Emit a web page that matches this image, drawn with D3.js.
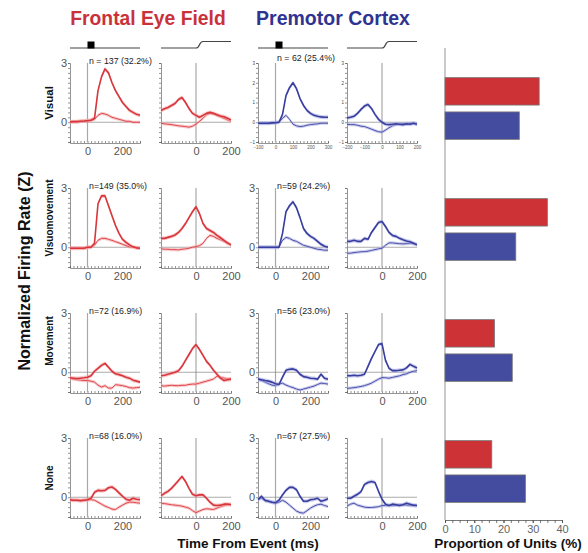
<!DOCTYPE html>
<html>
<head>
<meta charset="utf-8">
<script src="https://cdn.jsdelivr.net/npm/d3@7"></script>
<style>
  body { margin: 0; background: #fff; }
  text { font-family: "Liberation Sans", Arial, sans-serif; }
</style>
</head>
<body>
<script>
// time bins (ms)
const tStim = [-100, -80, -60, -40, -20, 0, 20, 40, 60, 80, 100, 120, 140, 160, 180, 200, 220, 240, 260, 280, 300];
const tSacc = [-200, -180, -160, -140, -120, -100, -80, -60, -40, -20, 0, 20, 40, 60, 80, 100, 120, 140, 160, 180, 200];

const rowNames = ["Visual", "Visuomovement", "Movement", "None"];
const fefN = [137, 149, 72, 68];
const pmcN = [62, 59, 56, 67];
const fefPct = [32.2, 35.0, 16.9, 16.0];
const pmcPct = [25.4, 24.2, 23.0, 27.5];
const barTicks = [0, 10, 20, 30, 40];

// FEF, stimulus aligned (pref / non-pref)
const fefVisStim = [0.02, 0.03, 0.03, 0.05, 0.06, 0.08, 0.1, 0.2, 1.6, 2.3, 2.7, 2.5, 2.0, 1.6, 1.3, 1.0, 0.8, 0.6, 0.5, 0.4, 0.35];
const fefVisStimNP = [0.02, 0.03, 0.03, 0.05, 0.06, 0.08, 0.1, 0.15, 0.35, 0.45, 0.42, 0.35, 0.25, 0.2, 0.15, 0.1, 0.05, 0.05, 0.0, 0.0, 0.0];
const fefVmStim = [-0.05, -0.05, -0.05, -0.05, -0.05, 0.0, 0.0, 0.2, 2.2, 2.6, 2.6, 2.1, 1.6, 1.1, 0.7, 0.4, 0.25, 0.12, 0.02, -0.03, -0.05];
const fefVmStimNP = [-0.05, -0.05, -0.05, -0.05, -0.05, 0.0, 0.0, 0.1, 0.35, 0.45, 0.45, 0.4, 0.35, 0.28, 0.22, 0.15, 0.08, 0.02, 0.0, -0.03, -0.05];
const fefMovStim = [-0.28, -0.3, -0.32, -0.3, -0.28, -0.25, -0.18, 0.05, 0.2, 0.35, 0.45, 0.25, 0.05, -0.08, -0.12, -0.18, -0.25, -0.3, -0.4, -0.45, -0.5];
const fefMovStimNP = [-0.3, -0.35, -0.38, -0.4, -0.42, -0.42, -0.45, -0.5, -0.65, -0.75, -0.68, -0.8, -0.8, -0.63, -0.65, -0.68, -0.72, -0.78, -0.8, -0.78, -0.76];
const fefNoneStim = [-0.13, -0.15, -0.15, -0.17, -0.15, -0.13, -0.05, 0.25, 0.35, 0.33, 0.35, 0.48, 0.52, 0.4, 0.22, 0.05, -0.1, -0.15, -0.05, -0.1, -0.13];
const fefNoneStimNP = [-0.13, -0.15, -0.15, -0.17, -0.15, -0.13, -0.12, -0.15, -0.25, -0.35, -0.45, -0.52, -0.6, -0.62, -0.5, -0.4, -0.3, -0.25, -0.25, -0.28, -0.3];

// FEF, saccade aligned
const fefVisSacc = [0.6, 0.68, 0.75, 0.85, 0.95, 1.15, 1.25, 1.0, 0.7, 0.45, 0.35, 0.25, 0.35, 0.45, 0.5, 0.45, 0.38, 0.32, 0.28, 0.2, 0.12];
const fefVisSaccNP = [-0.05, -0.08, -0.1, -0.12, -0.15, -0.18, -0.2, -0.22, -0.25, -0.2, -0.1, 0.05, 0.2, 0.38, 0.45, 0.42, 0.35, 0.28, 0.2, 0.12, 0.05];
const fefVmSacc = [0.45, 0.45, 0.5, 0.55, 0.62, 0.75, 0.95, 1.2, 1.5, 1.8, 2.05, 1.7, 1.2, 0.95, 0.85, 0.75, 0.6, 0.48, 0.35, 0.22, 0.12];
const fefVmSaccNP = [-0.08, -0.1, -0.1, -0.12, -0.12, -0.13, -0.1, -0.08, -0.05, 0.0, 0.03, 0.08, 0.2, 0.45, 0.6, 0.55, 0.45, 0.38, 0.3, 0.2, 0.12];
const fefMovSacc = [-0.18, -0.15, -0.1, -0.05, 0.0, 0.08, 0.3, 0.6, 0.9, 1.2, 1.4, 1.15, 0.85, 0.55, 0.35, 0.1, -0.1, -0.3, -0.42, -0.38, -0.35];
const fefMovSaccNP = [-0.68, -0.7, -0.68, -0.66, -0.68, -0.68, -0.66, -0.66, -0.62, -0.6, -0.6, -0.55, -0.5, -0.45, -0.4, -0.34, -0.2, -0.25, -0.3, -0.33, -0.34];
const fefNoneSacc = [0.08, 0.2, 0.3, 0.45, 0.65, 0.85, 1.05, 0.8, 0.45, 0.15, 0.08, 0.12, 0.12, -0.05, -0.25, -0.4, -0.42, -0.4, -0.35, -0.35, -0.38];
const fefNoneSaccNP = [-0.3, -0.32, -0.35, -0.38, -0.4, -0.42, -0.45, -0.5, -0.55, -0.68, -0.78, -0.7, -0.62, -0.58, -0.6, -0.62, -0.55, -0.48, -0.42, -0.38, -0.35];

// PMC, stimulus aligned
const pmcVisStim = [-0.05, -0.05, -0.05, -0.05, -0.03, -0.02, 0.0, 0.4, 1.35, 1.75, 2.0, 1.7, 1.2, 0.85, 0.6, 0.45, 0.35, 0.3, 0.27, 0.25, 0.25];
const pmcVisStimNP = [-0.05, -0.05, -0.05, -0.05, -0.03, -0.02, 0.0, 0.2, 0.35, 0.15, -0.1, -0.18, -0.22, -0.2, -0.15, -0.12, -0.1, -0.08, -0.05, -0.05, -0.05];
const pmcVmStim = [0.0, 0.0, 0.0, 0.0, 0.0, 0.0, 0.0, 0.7, 1.8, 2.1, 2.3, 2.0, 1.5, 0.95, 0.7, 0.55, 0.45, 0.3, 0.15, 0.05, 0.0];
const pmcVmStimNP = [0.0, 0.0, 0.0, 0.0, 0.0, 0.0, 0.0, 0.35, 0.5, 0.45, 0.35, 0.3, 0.2, 0.1, 0.05, 0.0, -0.05, -0.1, -0.12, -0.15, -0.15];
const pmcMovStim = [-0.35, -0.38, -0.42, -0.45, -0.5, -0.58, -0.62, -0.25, 0.1, 0.15, 0.17, 0.1, -0.1, -0.22, -0.25, -0.3, -0.32, -0.35, -0.1, -0.3, -0.35];
const pmcMovStimNP = [-0.35, -0.42, -0.5, -0.58, -0.65, -0.68, -0.6, -0.55, -0.65, -0.72, -0.78, -0.85, -0.9, -0.85, -0.8, -0.75, -0.7, -0.62, -0.55, -0.57, -0.6];
const pmcNoneStim = [-0.12, 0.05, -0.15, -0.2, -0.25, -0.28, -0.15, 0.12, 0.35, 0.5, 0.5, 0.38, 0.05, -0.2, -0.2, -0.13, -0.1, -0.05, -0.2, -0.15, -0.08];
const pmcNoneStimNP = [-0.12, -0.05, -0.18, -0.2, -0.25, -0.3, -0.25, -0.15, -0.25, -0.4, -0.55, -0.7, -0.78, -0.8, -0.68, -0.55, -0.45, -0.38, -0.35, -0.42, -0.47];

// PMC, saccade aligned
const pmcVisSacc = [0.22, 0.25, 0.3, 0.45, 0.65, 0.82, 0.9, 0.7, 0.4, 0.15, 0.0, -0.1, -0.12, -0.1, -0.08, -0.1, -0.12, -0.08, -0.1, -0.05, -0.1];
const pmcVisSaccNP = [-0.1, -0.12, -0.12, -0.15, -0.2, -0.22, -0.28, -0.35, -0.42, -0.48, -0.5, -0.4, -0.28, -0.18, -0.12, -0.1, -0.08, -0.1, -0.05, -0.05, -0.1];
const pmcVmSacc = [0.3, 0.3, 0.35, 0.3, 0.3, 0.45, 0.4, 0.75, 1.0, 1.25, 1.3, 1.05, 0.75, 0.6, 0.55, 0.45, 0.38, 0.32, 0.28, 0.2, 0.12];
const pmcVmSaccNP = [-0.3, -0.3, -0.27, -0.25, -0.23, -0.22, -0.2, -0.16, -0.12, -0.08, -0.05, 0.1, 0.22, 0.22, 0.2, 0.18, 0.17, 0.18, 0.2, 0.18, 0.15];
const pmcMovSacc = [-0.17, -0.18, -0.15, -0.18, -0.15, -0.1, 0.3, 0.7, 1.05, 1.4, 1.45, 0.6, 0.2, 0.08, 0.08, 0.1, 0.12, 0.22, 0.4, 0.3, 0.22];
const pmcMovSaccNP = [-0.82, -0.8, -0.78, -0.75, -0.72, -0.68, -0.62, -0.55, -0.45, -0.35, -0.27, -0.28, -0.3, -0.26, -0.22, -0.18, -0.12, -0.08, 0.0, 0.05, 0.08];
const pmcNoneSacc = [-0.05, -0.05, 0.05, 0.15, 0.28, 0.65, 0.75, 0.8, 0.75, 0.3, -0.1, -0.35, -0.42, -0.35, -0.38, -0.42, -0.38, -0.3, -0.35, -0.4, -0.42];
const pmcNoneSaccNP = [-0.45, -0.35, -0.3, -0.4, -0.45, -0.5, -0.52, -0.52, -0.5, -0.48, -0.42, -0.42, -0.42, -0.42, -0.4, -0.38, -0.38, -0.4, -0.42, -0.42, -0.42];

// approx. SEM half-width of the shaded bands (Z)
const semPref = 0.1;
const semNon = 0.08;

const W = 588, H = 553;
const svg = d3.select("body").append("svg").attr("width", W).attr("height", H);

const red = { line: "#d8363b", light: "#e0484d", band: "#f2a3a6" };
const blue = { line: "#383e9f", light: "#4d52ad", band: "#a9ace0" };

const colX = [70, 161, 258, 347];
const panelW = 70;
const rowTop = [63, 188, 313, 438];
const panelH = 79;
const fmt = d3.format("d");

// grid of panels: [row][col] = [pref, nonpref]
const traces = [
    [[fefVisStim, fefVisStimNP], [fefVisSacc, fefVisSaccNP], [pmcVisStim, pmcVisStimNP], [pmcVisSacc, pmcVisSaccNP]],
    [[fefVmStim, fefVmStimNP], [fefVmSacc, fefVmSaccNP], [pmcVmStim, pmcVmStimNP], [pmcVmSacc, pmcVmSaccNP]],
    [[fefMovStim, fefMovStimNP], [fefMovSacc, fefMovSaccNP], [pmcMovStim, pmcMovStimNP], [pmcMovSacc, pmcMovSaccNP]],
    [[fefNoneStim, fefNoneStimNP], [fefNoneSacc, fefNoneSaccNP], [pmcNoneStim, pmcNoneStimNP], [pmcNoneSacc, pmcNoneSaccNP]],
];

const xScales = colX.map((x0, c) =>
    d3.scaleLinear().domain(c % 2 === 0 ? [-100, 300] : [-200, 200]).range([x0, x0 + panelW])
);

rowNames.forEach((name, r) => {
    const y = d3.scaleLinear().domain([-1, 3]).range([rowTop[r] + panelH, rowTop[r]]);

    colX.forEach((x0, c) => {
        const x = xScales[c];
        const t = c % 2 === 0 ? tStim : tSacc;
        const col = c < 2 ? red : blue;
        const g = svg.append("g");
        const tiny = r === 0 && c >= 2;

        // left axis (minor ticks)
        const la = g.append("g").attr("transform", `translate(${x0},0)`)
            .call(d3.axisLeft(y).tickValues(d3.range(-1, 3.001, 0.25)).tickSize(2).tickFormat(""));
        la.selectAll("path,line").attr("stroke", "#666").attr("stroke-width", 0.7);
        if (c % 2 === 0 && !tiny) {
            const ll = g.append("g").attr("transform", `translate(${x0},0)`)
                .call(d3.axisLeft(y).tickValues([0, 3]).tickSize(0).tickPadding(3).tickFormat(fmt));
            ll.select(".domain").remove();
            ll.selectAll("text").attr("font-size", 11).attr("fill", "#555")
                .attr("font-family", "Liberation Sans, Arial, sans-serif");
        }
        if (tiny) {
            const ll = g.append("g").attr("transform", `translate(${x0},0)`)
                .call(d3.axisLeft(y).tickValues([-1, 0, 1, 2, 3]).tickSize(0).tickPadding(3).tickFormat(fmt));
            ll.select(".domain").remove();
            ll.selectAll("text").attr("font-size", 4.5).attr("fill", "#444");
        }

        // bottom axis
        const yb = y(-1) + 1;
        const ba = g.append("g").attr("transform", `translate(0,${yb})`)
            .call(d3.axisBottom(x).tickValues(d3.range(x.domain()[0], x.domain()[1] + 1, 20)).tickSize(-2).tickFormat(""));
        ba.selectAll("path,line").attr("stroke", "#666").attr("stroke-width", 0.7);
        const bl = g.append("g").attr("transform", `translate(0,${yb})`)
            .call(d3.axisBottom(x).tickValues(tiny ? d3.range(x.domain()[0], x.domain()[1] + 1, 100) : [0, 200])
                .tickSize(0).tickPadding(tiny ? 3 : 4).tickFormat(fmt));
        bl.select(".domain").remove();
        bl.selectAll("text").attr("font-size", tiny ? 4.5 : 11).attr("fill", "#555")
            .attr("font-family", "Liberation Sans, Arial, sans-serif");

        // zero lines
        g.append("line").attr("x1", x(0)).attr("x2", x(0)).attr("y1", y(3)).attr("y2", y(-1))
            .attr("stroke", "#a8a8a8").attr("stroke-width", 1.2);
        g.append("line").attr("x1", x0).attr("x2", x0 + panelW).attr("y1", y(0)).attr("y2", y(0))
            .attr("stroke", "#888").attr("stroke-width", 0.7);

        // traces: non-preferred first, then preferred
        const [pref, non] = traces[r][c];
        [[non, semNon, col.light, 1.0], [pref, semPref, col.line, 1.6]].forEach(([vals, sem, stroke, sw]) => {
            const area = d3.area().x((d, i) => x(t[i])).y0((d) => y(d - sem)).y1((d) => y(d + sem));
            const line = d3.line().x((d, i) => x(t[i])).y((d) => y(d));
            g.append("path").attr("d", area(vals)).attr("fill", col.band).attr("opacity", 0.6);
            g.append("path").attr("d", line(vals)).attr("fill", "none").attr("stroke", stroke)
                .attr("stroke-width", sw).attr("stroke-linejoin", "round");
        });

        // n label
        if (c % 2 === 0) {
            const n = c === 0 ? fefN[r] : pmcN[r];
            const p = c === 0 ? fefPct[r] : pmcPct[r];
            const lbl = r === 0 ? `n = ${n} (${p.toFixed(1)}%)` : `n=${n} (${p.toFixed(1)}%)`;
            g.append("text").attr("x", x(0) + 1.5).attr("y", y(3) + (r === 0 && c === 2 ? -2 : 1))
                .attr("font-size", 8.8).attr("fill", "#222").text(lbl);
        }
    });

    // row label
    const labelOff = [40, 30, 28, 40];
    svg.append("text")
        .attr("transform", `translate(53,${rowTop[r] + labelOff[r]}) rotate(-90)`)
        .attr("text-anchor", "middle").attr("font-weight", "bold").attr("font-size", r === 0 ? 11.5 : 10)
        .attr("fill", "#111").text(name);
});

// event icons above first row
colX.forEach((x0, c) => {
    const x = xScales[c];
    if (c % 2 === 0) {
        svg.append("line").attr("x1", x0).attr("x2", x0 + panelW).attr("y1", 48).attr("y2", 48)
            .attr("stroke", "#444").attr("stroke-width", 1.2);
        svg.append("rect").attr("x", x(0)).attr("y", 41.5).attr("width", x(40) - x(0)).attr("height", 7)
            .attr("fill", "#000");
    } else {
        const p = d3.path();
        p.moveTo(x0, 48);
        p.lineTo(x(0), 48);
        p.bezierCurveTo(x(25), 48, x(15), 41.5, x(40), 41.5);
        p.lineTo(x0 + panelW, 41.5);
        svg.append("path").attr("d", p.toString()).attr("fill", "none")
            .attr("stroke", "#444").attr("stroke-width", 1.2);
    }
});

// titles
svg.append("text").attr("x", 148).attr("y", 25).attr("text-anchor", "middle")
    .attr("font-weight", "bold").attr("font-size", 19.3).attr("fill", "#c9323b").text("Frontal Eye Field");
svg.append("text").attr("x", 333).attr("y", 25).attr("text-anchor", "middle")
    .attr("font-weight", "bold").attr("font-size", 19.5).attr("fill", "#2f3493").text("Premotor Cortex");

svg.append("text").attr("transform", "translate(30,271) rotate(-90)").attr("text-anchor", "middle")
    .attr("font-weight", "bold").attr("font-size", 16).attr("fill", "#111").text("Normalized Firing Rate (Z)");
svg.append("text").attr("x", 248).attr("y", 548).attr("text-anchor", "middle")
    .attr("font-weight", "bold").attr("font-size", 13.5).attr("fill", "#111").text("Time From Event (ms)");

// bar chart
const xb = d3.scaleLinear().domain([0, 40]).range([445, 562]);
const yb = d3.scaleBand().domain(rowNames).range([48, 532]).paddingInner(0.49).paddingOuter(0.245);
const ybi = d3.scaleBand().domain(["FEF", "PMC"]).range([0, yb.bandwidth()]).paddingInner(0.2);

svg.append("line").attr("x1", 445).attr("x2", 445).attr("y1", 48).attr("y2", 520)
    .attr("stroke", "#bdbdbd").attr("stroke-width", 1.6);

const barG = svg.append("g");
rowNames.forEach((name, r) => {
    [["FEF", fefPct[r], "#cd3236"], ["PMC", pmcPct[r], "#434c9f"]].forEach(([k, v, fill]) => {
        barG.append("rect").attr("x", xb(0)).attr("y", yb(name) + ybi(k))
            .attr("width", xb(v) - xb(0)).attr("height", ybi.bandwidth())
            .attr("fill", fill).attr("stroke", "#777").attr("stroke-width", 0.8);
    });
});

const bMinor = svg.append("g").attr("transform", "translate(0,520)")
    .call(d3.axisBottom(xb).tickValues(d3.range(0, 40.01, 2.5)).tickSize(3).tickFormat(""));
bMinor.selectAll("path,line").attr("stroke", "#555").attr("stroke-width", 0.8);
const bAxis = svg.append("g").attr("transform", "translate(0,520)")
    .call(d3.axisBottom(xb).tickValues(barTicks).tickSize(3).tickPadding(2));
bAxis.select(".domain").remove();
bAxis.selectAll("line").attr("stroke", "#555");
bAxis.selectAll("text").attr("font-size", 11).attr("fill", "#666")
    .attr("font-family", "Liberation Sans, Arial, sans-serif");

svg.append("text").attr("x", 508).attr("y", 548).attr("text-anchor", "middle")
    .attr("font-weight", "bold").attr("font-size", 13.5).attr("fill", "#111").text("Proportion of Units (%)");
</script>
</body>
</html>
